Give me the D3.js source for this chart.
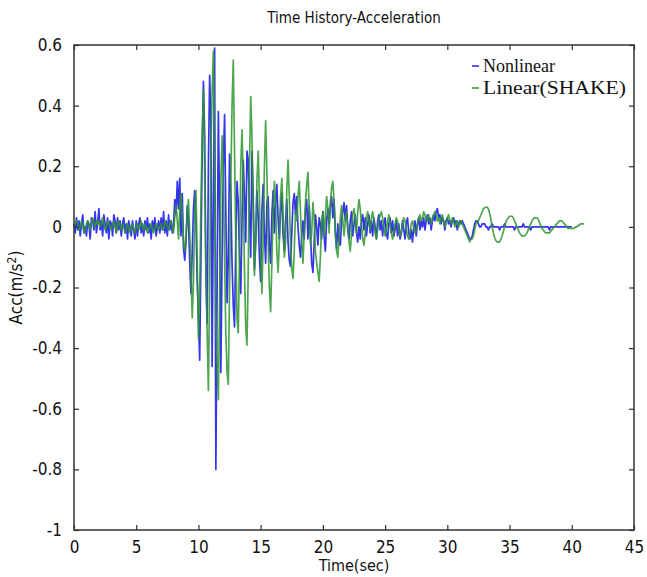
<!DOCTYPE html>
<html>
<head>
<meta charset="utf-8">
<script src="https://cdn.jsdelivr.net/npm/d3@7"></script>
<style>
body { margin: 0; background: #fff; }
text { fill: #111; }
</style>
</head>
<body>
<svg width="647" height="577"></svg>
<script>
// sample step of both records (sec)
var dt = 0.1;

// Nonlinear response, t = 0 .. 40 s
var nonlinear = [
  0.01,-0.02,0.03,-0.01,0.02,-0.03,0.01,0.04,-0.02,0.00,
  -0.03,0.02,0.01,-0.04,0.03,0.02,-0.01,0.05,-0.02,0.01,
  0.06,-0.01,0.02,-0.03,0.04,0.01,-0.02,0.03,-0.04,0.02,
  0.01,-0.03,0.04,0.02,-0.02,0.03,-0.01,0.02,-0.03,0.01,
  0.03,-0.02,0.01,-0.04,0.02,0.00,-0.03,0.02,-0.01,-0.04,
  0.02,-0.03,0.01,0.03,-0.02,0.01,-0.03,0.02,-0.01,0.03,
  -0.02,0.01,-0.04,0.02,-0.01,0.03,-0.03,0.00,0.02,-0.02,
  0.03,-0.01,0.05,-0.02,0.02,-0.03,0.04,-0.01,0.02,-0.02,
  0.01,0.09,0.04,0.15,0.06,0.16,-0.03,0.11,-0.07,-0.11,
  -0.05,0.07,0.02,-0.12,-0.22,-0.08,0.06,0.12,0.02,-0.18,
  -0.30,-0.44,-0.10,0.25,0.48,0.30,-0.15,-0.32,0.20,0.50,
  0.35,-0.46,0.10,0.59,-0.80,-0.20,0.38,0.05,-0.48,-0.10,
  0.20,0.37,0.05,-0.25,-0.10,0.24,0.12,-0.12,-0.26,-0.33,
  -0.05,0.15,0.08,-0.10,-0.22,0.02,0.22,0.10,-0.05,0.25,
  0.22,0.05,-0.10,0.25,0.10,-0.14,-0.05,0.12,0.03,-0.10,
  -0.18,0.05,0.14,-0.02,-0.12,0.08,0.10,-0.06,-0.12,0.04,
  0.12,-0.02,0.08,0.14,0.03,-0.04,0.06,0.11,-0.03,-0.08,
  0.02,0.09,-0.05,-0.11,-0.13,-0.02,0.08,0.11,0.04,0.10,
  0.00,-0.06,-0.10,-0.03,0.02,-0.04,0.06,0.09,-0.04,0.07,
  -0.02,-0.12,-0.15,-0.05,0.04,0.00,-0.06,0.03,0.01,-0.04,
  0.05,-0.03,-0.08,0.02,0.06,0.01,0.07,0.10,0.03,0.09,
  -0.02,-0.07,0.01,-0.05,-0.06,0.02,0.05,0.08,0.02,0.07,
  -0.01,-0.04,0.02,0.05,-0.03,0.01,0.04,-0.02,-0.05,0.00,
  -0.04,0.02,0.04,-0.01,0.03,-0.03,0.01,0.04,-0.02,0.02,
  -0.03,0.03,0.00,-0.04,0.02,0.04,-0.01,0.02,-0.03,0.01,
  0.03,-0.02,-0.04,0.01,0.03,-0.02,0.02,-0.03,-0.01,0.02,
  -0.03,0.01,-0.04,-0.02,0.02,-0.01,-0.04,0.01,0.03,-0.02,
  -0.04,-0.01,-0.05,0.00,0.02,-0.03,0.01,0.03,-0.01,0.02,
  0.00,0.03,-0.01,0.02,0.04,0.01,0.03,-0.01,0.02,0.04,
  0.02,0.05,0.06,0.03,0.04,0.01,0.03,0.02,-0.01,0.02,
  0.03,0.01,0.02,0.00,0.02,0.03,0.01,0.02,-0.01,0.01,
  0.02,0.01,0.02,0.01,0.00,-0.01,-0.02,-0.03,-0.04,-0.04,
  -0.03,-0.01,0.01,0.02,0.02,0.01,0.00,0.00,0.01,0.01,
  0.01,0.00,0.00,-0.01,0.00,0.00,0.01,0.00,0.00,0.00,
  0.00,0.00,-0.01,0.00,0.00,0.00,0.01,0.00,0.00,0.00,
  0.00,0.00,0.00,0.00,-0.01,0.00,0.00,0.00,0.00,0.00,
  0.00,0.01,0.00,0.00,0.00,0.00,0.00,-0.01,0.00,0.00,
  0.00,0.00,0.00,0.00,0.00,0.00,0.00,0.00,0.00,0.00,
  0.00,0.00,-0.01,0.00,0.00,0.00,0.00,0.00,0.00,0.00,
  0.00,0.00,0.00,0.00,0.00,0.00,0.00,0.00,0.00,0.00,
  0.00
];

// Linear (SHAKE) response, t = 0 .. 41 s
var linear = [
  0.00,0.01,0.02,0.01,-0.01,0.00,0.02,0.01,-0.02,-0.01,
  0.01,0.02,0.00,-0.01,0.01,0.03,0.01,0.00,0.02,0.01,
  0.02,0.00,0.01,0.03,0.01,-0.01,0.00,0.02,0.01,0.00,
  -0.01,0.01,0.02,0.00,-0.02,0.01,0.02,0.00,-0.01,0.01,
  0.00,-0.02,-0.01,0.01,0.00,-0.02,0.00,0.01,-0.01,-0.02,
  0.00,0.01,-0.01,0.00,0.02,0.00,-0.01,0.01,0.00,-0.02,
  -0.01,0.00,0.01,-0.01,-0.02,0.00,0.01,0.00,-0.01,0.00,
  0.01,0.00,-0.01,0.02,0.01,0.00,-0.01,0.01,0.02,0.00,
  -0.02,0.03,0.07,0.02,-0.04,0.06,0.11,0.04,-0.05,-0.08,
  -0.03,0.05,0.09,-0.02,-0.15,-0.30,-0.18,0.05,0.12,-0.10,
  -0.37,-0.22,0.08,0.30,0.45,0.18,-0.15,-0.35,-0.54,-0.20,
  0.25,0.45,0.58,0.20,-0.30,-0.45,-0.57,-0.25,0.15,0.30,
  0.18,-0.10,-0.35,-0.48,-0.52,-0.20,0.15,0.40,0.55,0.25,
  -0.05,-0.30,-0.35,-0.10,0.20,0.32,0.15,-0.15,-0.33,-0.39,
  -0.15,0.20,0.43,0.30,0.05,-0.16,-0.05,0.15,0.25,0.10,
  -0.10,-0.22,-0.05,0.20,0.35,0.18,-0.05,-0.20,-0.28,-0.12,
  0.05,0.15,0.08,-0.08,-0.15,-0.05,0.10,0.16,0.05,-0.10,
  -0.05,0.12,0.22,0.10,-0.06,-0.14,-0.17,-0.08,0.05,0.02,
  0.10,0.15,0.05,-0.05,-0.12,-0.02,0.08,0.14,0.18,0.06,
  -0.06,-0.02,0.08,0.03,-0.08,-0.12,-0.15,-0.18,-0.10,0.02,
  0.05,-0.03,0.04,0.10,0.06,-0.02,0.08,0.13,0.15,0.08,
  -0.02,-0.08,-0.10,-0.04,0.03,0.07,0.02,-0.03,0.02,0.05,
  0.00,-0.05,-0.08,-0.02,0.04,0.06,0.03,-0.02,0.05,0.09,
  0.06,0.01,-0.04,-0.06,-0.02,0.03,0.05,0.02,-0.01,0.03,
  0.05,0.02,-0.02,-0.04,-0.01,0.02,0.04,0.05,0.03,0.00,
  -0.03,-0.01,0.02,0.04,0.01,-0.02,-0.04,-0.02,0.01,0.03,
  0.02,-0.01,-0.03,-0.02,0.01,0.03,0.02,-0.01,-0.03,-0.04,
  -0.02,0.01,0.02,0.00,-0.02,-0.01,0.01,0.03,0.04,0.02,
  0.03,0.05,0.04,0.02,0.03,0.04,0.02,0.01,0.03,0.04,
  0.05,0.04,0.02,0.03,0.01,0.03,0.04,0.02,0.00,0.02,
  0.03,0.04,0.02,0.01,0.03,0.02,0.00,0.01,0.02,0.00,
  0.01,0.02,0.01,0.00,-0.01,-0.02,-0.03,-0.04,-0.05,-0.04,
  -0.04,-0.03,-0.01,0.01,0.02,0.02,0.03,0.04,0.05,0.06,
  0.063,0.065,0.065,0.06,0.045,0.025,0.00,-0.02,-0.035,-0.045,
  -0.05,-0.05,-0.05,-0.04,-0.03,-0.015,0.00,0.015,0.025,0.03,
  0.035,0.035,0.035,0.03,0.02,0.01,0.00,-0.01,-0.02,-0.025,
  -0.03,-0.03,-0.03,-0.025,-0.02,-0.01,0.00,0.01,0.02,0.025,
  0.03,0.03,0.03,0.025,0.015,0.005,-0.005,-0.01,-0.015,-0.02,
  -0.02,-0.02,-0.02,-0.015,-0.01,-0.005,0.00,0.005,0.01,0.015,
  0.02,0.02,0.02,0.015,0.01,0.005,0.00,-0.005,-0.005,-0.005,
  -0.005,-0.005,-0.005,0.00,0.00,0.005,0.005,0.01,0.01,0.01,
  0.01
];

var xTicks = [0, 5, 10, 15, 20, 25, 30, 35, 40, 45];
var yTicks = [-1, -0.8, -0.6, -0.4, -0.2, 0, 0.2, 0.4, 0.6];
var seriesNames = ["Nonlinear", "Linear(SHAKE)"];

var blue = "#1f1fee",
    green = "#2f962f";

var svg = d3.select("svg");

var pLeft = 74, pRight = 634, pTop = 45, pBottom = 530;

var x = d3.scaleLinear().domain([0, 45]).range([pLeft, pRight]);
var y = d3.scaleLinear().domain([-1, 0.6]).range([pBottom, pTop]);

var sans = "'Liberation Sans Narrow', 'DejaVu Sans Condensed', Arial, sans-serif";

// traces
var line = d3.line()
    .x(function(d, i) { return x(i * dt); })
    .y(function(d) { return y(d); });

svg.append("path")
   .datum(nonlinear)
   .attr("d", line)
   .attr("fill", "none")
   .attr("stroke", blue)
   .attr("stroke-width", 1.7)
   .attr("stroke-linejoin", "round")
   .attr("opacity", 0.9);

svg.append("path")
   .datum(linear)
   .attr("d", line)
   .attr("fill", "none")
   .attr("stroke", green)
   .attr("stroke-width", 1.7)
   .attr("stroke-linejoin", "round")
   .attr("opacity", 0.85);

// axes, ticks pointing inwards on all four sides
function fmt(d) { return String(+d.toFixed(1)); }

var gx = svg.append("g")
    .attr("transform", "translate(0," + pBottom + ")")
    .call(d3.axisBottom(x).tickValues(xTicks).tickSizeInner(-5).tickSizeOuter(0).tickPadding(11).tickFormat(fmt));
var gy = svg.append("g")
    .attr("transform", "translate(" + pLeft + ",0)")
    .call(d3.axisLeft(y).tickValues(yTicks).tickSizeInner(-5).tickSizeOuter(0).tickPadding(12).tickFormat(fmt));
var gt = svg.append("g")
    .attr("transform", "translate(0," + pTop + ")")
    .call(d3.axisTop(x).tickValues(xTicks).tickSizeInner(-5).tickSizeOuter(0).tickFormat(""));
var gr = svg.append("g")
    .attr("transform", "translate(" + pRight + ",0)")
    .call(d3.axisRight(y).tickValues(yTicks).tickSizeInner(-5).tickSizeOuter(0).tickFormat(""));

[gx, gy, gt, gr].forEach(function(g) {
  g.select(".domain").remove();
  g.selectAll("line").attr("stroke", "#333").attr("stroke-width", 1.2);
  g.selectAll("text").attr("font-family", sans).attr("font-size", 17).attr("fill", "#111");
});

svg.append("rect")
   .attr("x", pLeft).attr("y", pTop)
   .attr("width", pRight - pLeft).attr("height", pBottom - pTop)
   .attr("fill", "none")
   .attr("stroke", "#333")
   .attr("stroke-width", 1.5);

// title and labels
svg.append("text")
   .attr("x", (pLeft + pRight) / 2).attr("y", 23)
   .attr("text-anchor", "middle")
   .attr("font-family", sans).attr("font-size", 15)
   .text("Time History-Acceleration");

svg.append("text")
   .attr("x", (pLeft + pRight) / 2).attr("y", 571)
   .attr("text-anchor", "middle")
   .attr("font-family", sans).attr("font-size", 16)
   .text("Time(sec)");

var ylab = svg.append("text")
   .attr("transform", "translate(22," + ((pTop + pBottom) / 2) + ") rotate(-90)")
   .attr("text-anchor", "middle")
   .attr("font-family", sans).attr("font-size", 17);
ylab.append("tspan").text("Acc(m/s");
ylab.append("tspan").attr("dy", -6).attr("font-size", 12).text("2");
ylab.append("tspan").attr("dy", 6).text(")");

// legend
var legendWidths = [72, 143];
var legend = svg.append("g").attr("transform", "translate(472,66)");
[blue, green].forEach(function(c, i) {
  legend.append("line")
     .attr("x1", 0).attr("x2", 7)
     .attr("y1", i * 22).attr("y2", i * 22)
     .attr("stroke", c).attr("stroke-width", 1.5);
  legend.append("text")
     .attr("x", 11).attr("y", i * 22 + 6)
     .attr("font-family", "'Liberation Serif', 'Times New Roman', serif")
     .attr("font-size", 18)
     .attr("textLength", legendWidths[i])
     .attr("lengthAdjust", "spacingAndGlyphs")
     .text(seriesNames[i]);
});
</script>
</body>
</html>
